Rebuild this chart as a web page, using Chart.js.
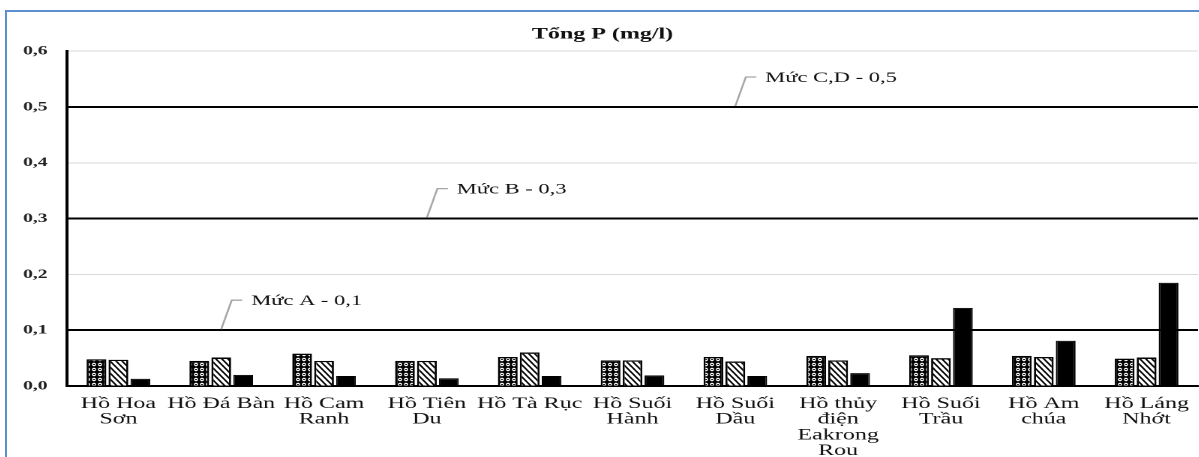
<!DOCTYPE html>
<html>
<head>
<meta charset="utf-8">
<script src="https://cdn.jsdelivr.net/npm/chart.js@4.4.1/dist/chart.umd.min.js"></script>
<style>
    html, body { margin: 0; padding: 0; background: #fff; overflow: hidden; }
    #box {
        position: absolute; left: 5px; top: 10px; width: 1194px; height: 447px;
        border-left: 2px solid #5b8fd0; border-top: 2px solid #5b8fd0;
        box-sizing: border-box; overflow: hidden;
    }
    /* the original picture is stretched sideways, so draw narrow and widen it */
    #inner {
        position: absolute; left: 0; top: 0; width: 795px; height: 445px;
        transform: scaleX(1.5); transform-origin: 0 0;
    }
</style>
</head>
<body>
<div id="box"><div id="inner"><canvas id="myChart"></canvas></div></div>
<script>
var categories = [
    ["Hồ Hoa", "Sơn"], "Hồ Đá Bàn", ["Hồ Cam", "Ranh"], ["Hồ Tiên", "Du"], "Hồ Tà Rục",
    ["Hồ Suối", "Hành"], ["Hồ Suối", "Dầu"], ["Hồ thủy", "điện", "Eakrong", "Rou"],
    ["Hồ Suối", "Trầu"], ["Hồ Am", "chúa"], ["Hồ Láng", "Nhớt"]
];
var series1 = [0.048, 0.045, 0.058, 0.045, 0.052, 0.046, 0.052, 0.054, 0.055, 0.054, 0.049];
var series2 = [0.047, 0.051, 0.045, 0.045, 0.060, 0.046, 0.044, 0.046, 0.050, 0.052, 0.051];
var series3 = [0.013, 0.020, 0.018, 0.014, 0.018, 0.019, 0.018, 0.023, 0.140, 0.081, 0.185];
var yTicks = [0, 0.1, 0.2, 0.3, 0.4, 0.5, 0.6];
var limitValues = [0.1, 0.3, 0.5];
var limitLabels = ["Mức A - 0,1", "Mức B - 0,3", "Mức C,D - 0,5"];
var limitAt = [1, 3, 6];

function dotPattern() {
    var c = document.createElement('canvas');
    c.width = 8; c.height = 10;
    var g = c.getContext('2d');
    g.fillStyle = '#000';
    g.fillRect(0, 0, 8, 10);
    g.fillStyle = '#fff';
    g.beginPath();
    g.ellipse(4, 5, 2.6, 3.4, 0, 0, Math.PI * 2);
    g.fill();
    g.fillStyle = '#000';
    g.fillRect(3, 4, 2, 2);
    var p = g.createPattern(c, 'repeat');
    p.setTransform(new DOMMatrix().scale(0.5, 0.5));
    return p;
}

function stripePattern() {
    var c = document.createElement('canvas');
    c.width = 8; c.height = 12;
    var g = c.getContext('2d');
    g.fillStyle = '#fff';
    g.fillRect(0, 0, 8, 12);
    g.strokeStyle = '#000';
    g.lineWidth = 2.6;
    g.beginPath();
    for (var k = -2; k <= 2; k++) {
        g.moveTo(k * 8 - 2, -3);
        g.lineTo(k * 8 + 10, 15);
    }
    g.stroke();
    var p = g.createPattern(c, 'repeat');
    p.setTransform(new DOMMatrix().scale(0.5, 0.5));
    return p;
}

var limitPlugin = {
    id: 'limitLabels',
    afterDatasetsDraw: function (chart) {
        var ctx = chart.ctx;
        var xs = chart.scales.x, ys = chart.scales.y;
        ctx.save();
        for (var i = 0; i < limitValues.length; i++) {
            var x0 = xs.getPixelForValue(limitAt[i]);
            var y0 = ys.getPixelForValue(limitValues[i]);
            ctx.strokeStyle = '#a6a6a6';
            ctx.lineWidth = 1.3;
            ctx.beginPath();
            ctx.moveTo(x0, y0 - 1);
            ctx.lineTo(x0 + 7, y0 - 30);
            ctx.lineTo(x0 + 14, y0 - 30);
            ctx.stroke();
            ctx.fillStyle = '#111';
            ctx.font = '15px "Liberation Serif"';
            ctx.textAlign = 'left';
            ctx.textBaseline = 'middle';
            ctx.fillText(limitLabels[i], x0 + 20, y0 - 29);
        }
        ctx.restore();
    }
};

function createChart() {
    var ctx = document.getElementById('myChart');
    var config = {
        type: 'bar',
        data: {
            labels: categories,
            datasets: [
                { label: 's1', data: series1, backgroundColor: dotPattern(), borderColor: '#000', borderWidth: 1.4 },
                { label: 's2', data: series2, backgroundColor: stripePattern(), borderColor: '#000', borderWidth: 1.4 },
                { label: 's3', data: series3, backgroundColor: '#000', borderColor: '#000', borderWidth: 1 }
            ]
        },
        options: {
            responsive: true,
            maintainAspectRatio: false,
            animation: false,
            devicePixelRatio: 2,
            layout: { padding: { top: 7, right: 1, left: 0, bottom: 0 } },
            datasets: { bar: { categoryPercentage: 0.64, barPercentage: 0.9 } },
            plugins: {
                legend: { display: false },
                tooltip: { enabled: false },
                title: {
                    display: true,
                    text: 'Tổng P (mg/l)',
                    color: '#111',
                    font: { family: 'Liberation Serif', size: 16, weight: 'bold' },
                    padding: { top: 6, bottom: 7 }
                }
            },
            scales: {
                x: {
                    grid: { display: false },
                    border: { color: '#000', width: 2 },
                    afterFit: function (axis) { axis.height = 71; },
                    ticks: {
                        color: '#111', maxRotation: 0, autoSkip: false, padding: 2,
                        font: { family: 'Liberation Serif', size: 16, lineHeight: 0.98 }
                    }
                },
                y: {
                    min: 0,
                    max: 0.6,
                    afterBuildTicks: function (axis) {
                        axis.ticks = yTicks.map(function (v) { return { value: v }; });
                    },
                    afterFit: function (axis) { axis.width = 40; },
                    border: { color: '#000', width: 2 },
                    grid: {
                        drawTicks: false,
                        color: function (c) {
                            return limitValues.indexOf(Math.round(c.tick.value * 10) / 10) >= 0 ? '#000' : '#d9d9d9';
                        },
                        lineWidth: function (c) {
                            return limitValues.indexOf(Math.round(c.tick.value * 10) / 10) >= 0 ? 2 : 1;
                        }
                    },
                    ticks: {
                        color: '#222', padding: 13,
                        font: { family: 'Liberation Serif', size: 13, weight: 'bold' },
                        callback: function (v) { return v.toFixed(1).replace('.', ','); }
                    }
                }
            }
        },
        plugins: [limitPlugin]
    };
    new Chart(ctx, config);
}

createChart();
</script>
</body>
</html>
